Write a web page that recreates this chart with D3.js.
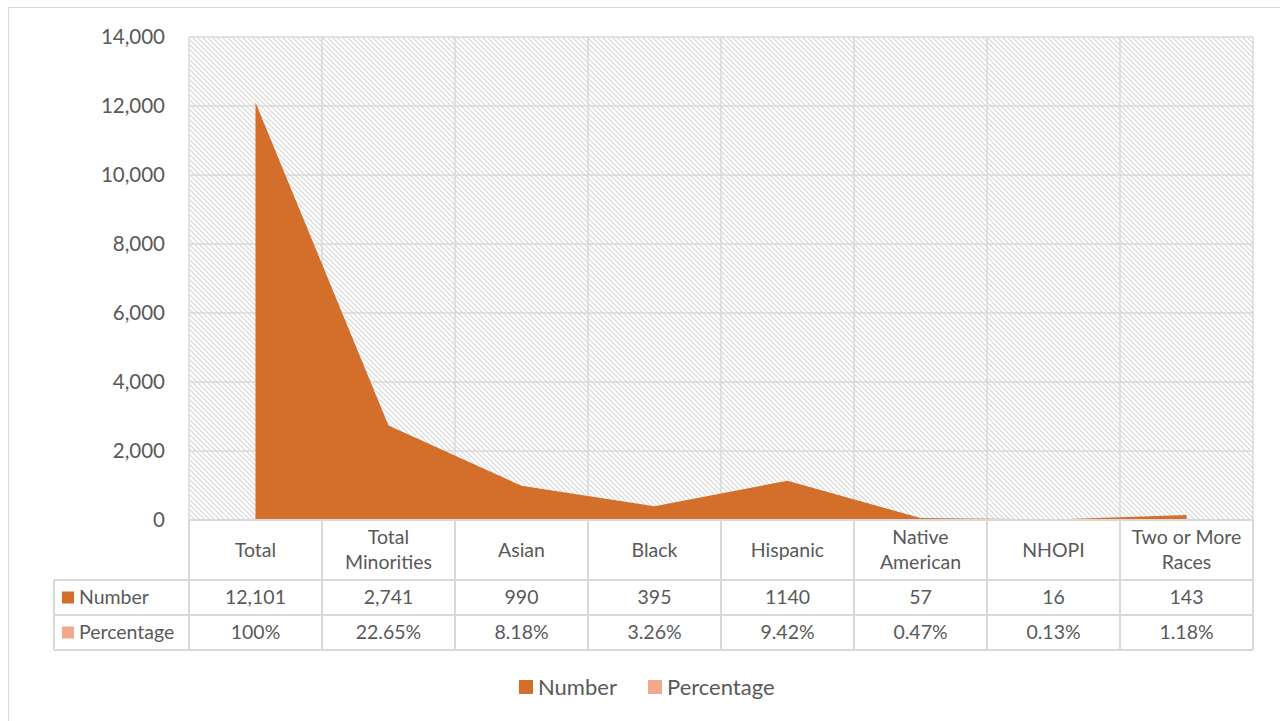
<!DOCTYPE html>
<html>
<head>
<meta charset="utf-8">
<script src="https://cdn.jsdelivr.net/npm/d3@7"></script>
<style>
  html, body { margin: 0; padding: 0; background: #fff; }
  svg { display: block; font-family: Lato, "Open Sans", sans-serif; }
</style>
</head>
<body>
<svg id="chart" width="1280" height="721"></svg>
<script>
// Categories and series
const categories = ["Total", "Total Minorities", "Asian", "Black", "Hispanic", "Native American", "NHOPI", "Two or More Races"];
const categoryLines = [["Total"], ["Total", "Minorities"], ["Asian"], ["Black"], ["Hispanic"], ["Native", "American"], ["NHOPI"], ["Two or More", "Races"]];
const numberValues = [12101, 2741, 990, 395, 1140, 57, 16, 143];
const numberLabels = ["12,101", "2,741", "990", "395", "1140", "57", "16", "143"];
const percentageValues = [100, 22.65, 8.18, 3.26, 9.42, 0.47, 0.13, 1.18];
const percentageLabels = ["100%", "22.65%", "8.18%", "3.26%", "9.42%", "0.47%", "0.13%", "1.18%"];
const yTicks = [0, 2000, 4000, 6000, 8000, 10000, 12000, 14000];
const seriesNames = ["Number", "Percentage"];

const colors = { Number: "#D36F2B", Percentage: "#F2A88A" };
const textColor = "#595959";
const gridColor = "#D9D9D9";

const svg = d3.select("#chart");

// Outer chart frame
svg.append("rect").attr("x", 8.5).attr("y", 7.5).attr("width", 1290).attr("height", 730)
  .attr("fill", "#fff").attr("stroke", "#D9D9D9").attr("stroke-width", 1);

// Hatched plot background pattern
const defs = svg.append("defs");
const tile = 5;
const pat = defs.append("pattern").attr("id", "hatch").attr("patternUnits", "userSpaceOnUse")
  .attr("width", tile).attr("height", tile);
pat.append("rect").attr("width", tile).attr("height", tile).attr("fill", "#fff");
pat.append("path").attr("d", `M-1,-1 L${tile + 1},${tile + 1} M-1,${tile - 1} L1,${tile + 1} M${tile - 1},-1 L${tile + 1},1`)
  .attr("stroke", "#D6D6D6").attr("stroke-width", 1.1);

const plot = { left: 189, right: 1253, top: 37, bottom: 520 };

const xBand = d3.scaleBand().domain(categories).range([plot.left, plot.right]).padding(0);
const xCenter = c => xBand(c) + xBand.bandwidth() / 2;
const y = d3.scaleLinear().domain([0, 14000]).range([plot.bottom, plot.top]);

// Plot background
svg.append("rect").attr("x", plot.left).attr("y", plot.top)
  .attr("width", plot.right - plot.left).attr("height", plot.bottom - plot.top)
  .attr("fill", "url(#hatch)");

// Horizontal gridlines
svg.append("g").selectAll("line").data(yTicks).join("line")
  .attr("x1", plot.left).attr("x2", plot.right)
  .attr("y1", d => y(d)).attr("y2", d => y(d))
  .attr("stroke", gridColor).attr("stroke-width", 1.5);

// Vertical gridlines at category boundaries
const bounds = categories.map(c => xBand(c)).concat([plot.right]);
svg.append("g").selectAll("line").data(bounds).join("line")
  .attr("x1", d => d).attr("x2", d => d)
  .attr("y1", plot.top).attr("y2", plot.bottom)
  .attr("stroke", gridColor).attr("stroke-width", 1.5);

// Areas
const area = d3.area().x((d, i) => xCenter(categories[i])).y0(y(0)).y1(d => y(d));
svg.append("path").datum(percentageValues).attr("d", area).attr("fill", colors.Percentage);
svg.append("path").datum(numberValues).attr("d", area).attr("fill", colors.Number);

// Y axis labels
const yAxis = d3.axisLeft(y).tickValues(yTicks).tickFormat(d3.format(",")).tickSize(0).tickPadding(24);
const yg = svg.append("g").attr("transform", `translate(${plot.left},0)`).call(yAxis);
yg.select(".domain").remove();
yg.selectAll("text").attr("fill", textColor).style("font-size", "20.5px")
  .style("font-family", "Lato, 'Open Sans', sans-serif");

// Data table
const tableLeft = 54;
const rowY = [520, 580, 615, 650];
const tbl = svg.append("g");
const tableFont = "19.5px";

// Horizontal table rules
tbl.append("line").attr("x1", plot.left).attr("x2", plot.right).attr("y1", rowY[0]).attr("y2", rowY[0])
  .attr("stroke", gridColor).attr("stroke-width", 2);
[rowY[1], rowY[2], rowY[3]].forEach(yy => {
  tbl.append("line").attr("x1", tableLeft).attr("x2", plot.right).attr("y1", yy).attr("y2", yy)
    .attr("stroke", gridColor).attr("stroke-width", 2);
});
// Vertical table rules
bounds.forEach(bx => {
  tbl.append("line").attr("x1", bx).attr("x2", bx).attr("y1", rowY[0]).attr("y2", rowY[3])
    .attr("stroke", gridColor).attr("stroke-width", 2);
});
tbl.append("line").attr("x1", tableLeft).attr("x2", tableLeft).attr("y1", rowY[1]).attr("y2", rowY[3])
  .attr("stroke", gridColor).attr("stroke-width", 2);

// Category header labels
categories.forEach((c, i) => {
  const lines = categoryLines[i];
  const cy = (rowY[0] + rowY[1]) / 2;
  const lh = 25;
  lines.forEach((ln, j) => {
    tbl.append("text").attr("x", xCenter(c))
      .attr("y", cy + (j - (lines.length - 1) / 2) * lh)
      .attr("dy", "0.35em").attr("text-anchor", "middle")
      .attr("fill", textColor).style("font-size", tableFont).text(ln);
  });
});

// Row values
const rows = [
  { name: seriesNames[0], labels: numberLabels },
  { name: seriesNames[1], labels: percentageLabels }
];
rows.forEach((r, ri) => {
  const cy = (rowY[ri + 1] + rowY[ri + 2]) / 2;
  tbl.append("rect").attr("x", 62).attr("y", cy - 6).attr("width", 12).attr("height", 12)
    .attr("fill", colors[r.name]);
  tbl.append("text").attr("x", 79).attr("y", cy).attr("dy", "0.35em")
    .attr("fill", textColor).style("font-size", tableFont).text(r.name);
  categories.forEach((c, i) => {
    tbl.append("text").attr("x", xCenter(c)).attr("y", cy).attr("dy", "0.35em")
      .attr("text-anchor", "middle").attr("fill", textColor).style("font-size", tableFont)
      .text(r.labels[i]);
  });
});

// Legend
const legendItems = [{ name: seriesNames[0], x: 519 }, { name: seriesNames[1], x: 648 }];
const lg = svg.append("g");
legendItems.forEach(it => {
  lg.append("rect").attr("x", it.x).attr("y", 680).attr("width", 14).attr("height", 14)
    .attr("fill", colors[it.name]);
  lg.append("text").attr("x", it.x + 19).attr("y", 687).attr("dy", "0.35em")
    .attr("fill", textColor).style("font-size", "22px").text(it.name);
});
</script>
</body>
</html>
